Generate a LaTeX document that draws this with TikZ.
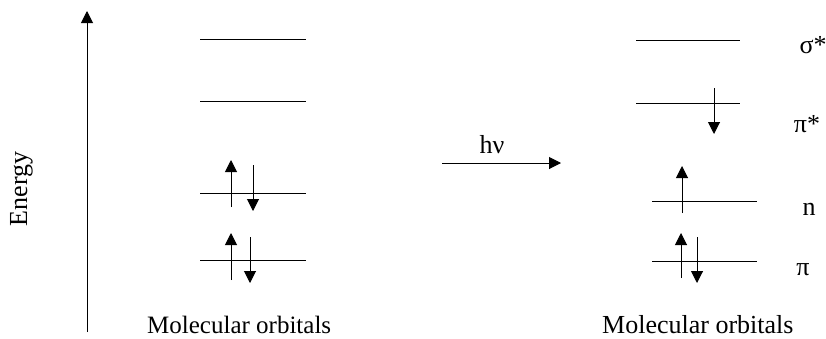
\documentclass[tikz,border=0pt]{standalone}
\usepackage{fontspec}
\setmainfont{Liberation Serif}
\usetikzlibrary{arrows.meta}

\tikzset{
  level/.style={line width=1pt},
  spin/.style={line width=1pt, -{Triangle[width=12pt,length=12pt]}},
  lbl/.style={font=\fontsize{26}{30}\selectfont, inner sep=0pt, anchor=base}
}

\begin{document}
\begin{tikzpicture}[x=1pt, y=-1pt]
        \useasboundingbox (0,0) rectangle (826,338);

        % Energieachse
        \coordinate (axisbot) at (87,332);
        \coordinate (axistop) at (87,11);
        \draw[spin] (axisbot) -- (axistop);
        \node[lbl, rotate=90] (energy) at (27,189) {Energy};

        % Grundzustand (links)
        \foreach \name/\y in {sigstarL/39, pistarL/101, nL/193, piL/260} {
                \coordinate (\name a) at (200,\y);
                \coordinate (\name b) at (306,\y);
                \draw[level] (\name a) -- (\name b);
            }
        % Elektronen links
        \draw[spin] (231,207) -- (231,160);
        \draw[spin] (253,165) -- (253,211);
        \draw[spin] (231,280) -- (231,233);
        \draw[spin] (250,237) -- (250,283);
        \node[lbl, anchor=base west, font=\fontsize{25}{30}\selectfont] (molL) at (147,333) {Molecular orbitals};

        % Anregung
        \coordinate (hvstart) at (442,163);
        \coordinate (hvend) at (561,163);
        \draw[spin] (hvstart) -- (hvend);
        \node[lbl] (hv) at (492,153) {hν};

        % Angeregter Zustand (rechts)
        \foreach \name/\xa/\xb/\y in {sigstarR/636/740/40, pistarR/636/740/103, nR/652/757/201, piR/652/757/261} {
                \coordinate (\name a) at (\xa,\y);
                \coordinate (\name b) at (\xb,\y);
                \draw[level] (\name a) -- (\name b);
            }
        % Elektronen rechts
        \draw[spin] (714,88) -- (714,134);
        \draw[spin] (682,213) -- (682,166);
        \draw[spin] (681,278) -- (681,233);
        \draw[spin] (697,237) -- (697,283);

        % Beschriftung der Orbitale
        \node[lbl] (sigstar) at (813,53) {σ*};
        \node[lbl] (pistar) at (807,132) {π*};
        \node[lbl] (nlab) at (809,215) {n};
        \node[lbl] (pilab) at (803,275) {π};
        \node[lbl, anchor=base west, text depth=0pt] (molR) at (602,333) {Molecular orbitals};

    \end{tikzpicture}
\end{document}
